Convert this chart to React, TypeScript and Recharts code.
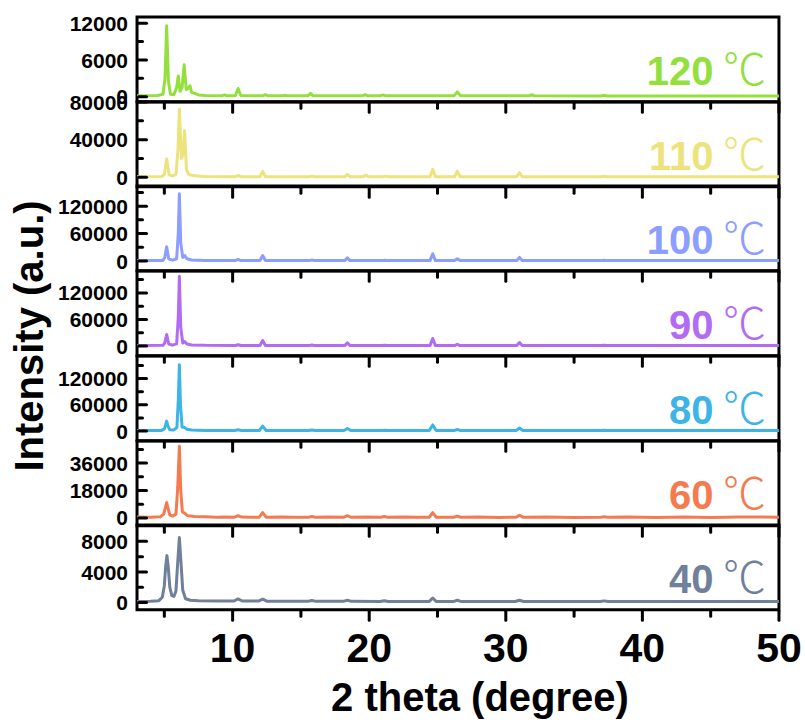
import { LineChart, Line, XAxis, YAxis, ReferenceArea } from 'recharts';

const TEMPS = ['120', '110', '100', '90', '80', '60', '40'];
const COLORS = ['#93E03C', '#ECE37C', '#8C9EFF', '#B26CF4', '#3DB4E6', '#F37B4F', '#6F7F9C'];

const X_TICKS = [5, 10, 15, 20, 25, 30, 35, 40, 45, 50];
const X_LABELS = [10, 20, 30, 40, 50];

const Y_MIN = [-800, -10000, -21000, -21800, -22100, -5100, -930];
const Y_MAX = [13000, 80000, 164000, 169400, 171800, 50500, 10130];
const Y_TICKS = [
    [0, 3000, 6000, 9000, 12000],
    [0, 20000, 40000, 60000, 80000],
    [0, 30000, 60000, 90000, 120000, 150000],
    [0, 30000, 60000, 90000, 120000, 150000],
    [0, 30000, 60000, 90000, 120000, 150000],
    [0, 9000, 18000, 27000, 36000, 45000],
    [0, 2000, 4000, 6000, 8000],
];
const Y_LABELS = [
    [0, 6000, 12000],
    [0, 40000, 80000],
    [0, 60000, 120000],
    [0, 60000, 120000],
    [0, 60000, 120000],
    [0, 18000, 36000],
    [0, 4000, 8000],
];

// [2theta, intensity]
const s120: [number, number][] = [
    [3.0, 150], [4.5, 200], [4.9, 400], [5.05, 3000], [5.17, 11560], [5.3, 2500], [5.45, 400],
    [5.7, 350], [5.9, 1500], [6.02, 3400], [6.15, 900], [6.3, 1500], [6.45, 5200], [6.6, 1200],
    [6.75, 1400], [6.88, 1800], [7.0, 700], [7.2, 600], [7.5, 300], [8.0, 200], [9.2, 150],
    [9.4, 300], [9.6, 150], [10.2, 200], [10.4, 1350], [10.6, 200], [12.2, 150], [12.4, 350],
    [12.6, 150], [13.6, 150], [13.8, 250], [14.0, 150], [15.5, 150], [15.7, 550], [15.9, 150],
    [19.5, 150], [19.7, 350], [19.9, 150], [20.8, 150], [21.0, 300], [21.2, 150], [26.2, 150],
    [26.45, 800], [26.7, 150], [31.7, 150], [31.9, 350], [32.1, 150], [37.0, 130], [37.2, 250],
    [37.4, 130], [50.0, 130],
];
const s110: [number, number][] = [
    [3.0, 500], [4.8, 700], [5.0, 3000], [5.17, 19700], [5.35, 2500], [5.6, 1500], [5.85, 3000],
    [6.0, 30000], [6.1, 72300], [6.25, 20000], [6.38, 25000], [6.48, 49500], [6.62, 8000],
    [6.8, 3000], [7.2, 1500], [8.0, 800], [10.2, 600], [10.4, 2000], [10.6, 600], [12.0, 600],
    [12.2, 6300], [12.4, 600], [15.6, 500], [15.8, 1200], [16.0, 500], [18.2, 500], [18.4, 3000],
    [18.6, 500], [19.55, 500], [19.75, 2500], [19.95, 500], [21.0, 500], [21.2, 1200], [21.4, 500],
    [24.45, 500], [24.65, 8400], [24.85, 500], [26.25, 500], [26.45, 6600], [26.65, 500],
    [30.8, 500], [31.0, 5000], [31.2, 500], [37.0, 500], [37.2, 1000], [37.4, 500], [50.0, 500],
];
const s100: [number, number][] = [
    [3.0, 1000], [4.9, 1500], [5.03, 8000], [5.17, 31200], [5.32, 5000], [5.6, 2000], [5.9, 5000],
    [6.02, 60000], [6.1, 146900], [6.2, 40000], [6.35, 8000], [6.5, 12000], [6.65, 5000],
    [7.0, 2500], [8.0, 1500], [10.2, 1200], [10.4, 3500], [10.6, 1200], [12.0, 1200], [12.2, 12000],
    [12.4, 1200], [15.6, 1000], [15.8, 2500], [16.0, 1000], [18.2, 1000], [18.4, 7000], [18.6, 1000],
    [20.95, 1000], [21.15, 2000], [21.35, 1000], [24.45, 1000], [24.65, 16000], [24.85, 1000],
    [26.25, 1000], [26.45, 5000], [26.65, 1000], [30.8, 1000], [31.0, 8000], [31.2, 1000],
    [37.0, 1000], [37.2, 2000], [37.4, 1000], [50.0, 1000],
];
const s90: [number, number][] = [
    [3.0, 1000], [4.9, 1500], [5.03, 7000], [5.17, 26000], [5.32, 4500], [5.6, 2000], [5.9, 5000],
    [6.02, 65000], [6.1, 157300], [6.2, 42000], [6.35, 7000], [6.5, 10000], [6.65, 4500],
    [7.0, 2500], [8.0, 1500], [10.2, 1200], [10.4, 3000], [10.6, 1200], [12.0, 1200], [12.2, 12600],
    [12.4, 1200], [15.6, 1000], [15.8, 2500], [16.0, 1000], [18.2, 1000], [18.4, 7000], [18.6, 1000],
    [20.95, 1000], [21.15, 2000], [21.35, 1000], [24.45, 1000], [24.65, 17000], [24.85, 1000],
    [26.25, 1000], [26.45, 4000], [26.65, 1000], [30.8, 1000], [31.0, 8000], [31.2, 1000],
    [37.0, 1000], [37.2, 2000], [37.4, 1000], [50.0, 1000],
];
const s80: [number, number][] = [
    [3.0, 1500], [4.0, 1200], [4.8, 1500], [5.0, 5000], [5.1, 15000], [5.17, 22800], [5.26, 12000],
    [5.4, 3000], [5.7, 2500], [5.92, 8000], [6.02, 70000], [6.1, 151900], [6.18, 60000], [6.3, 9000],
    [6.48, 8000], [6.65, 4000], [7.0, 2500], [8.0, 1500], [10.15, 1200], [10.4, 3000], [10.65, 1200],
    [11.95, 1200], [12.2, 11400], [12.45, 1200], [15.55, 1100], [15.8, 2500], [16.05, 1100],
    [18.15, 1100], [18.4, 6000], [18.65, 1100], [20.9, 1000], [21.15, 2000], [21.4, 1000],
    [24.4, 1000], [24.65, 14000], [24.9, 1000], [26.2, 1000], [26.45, 3500], [26.7, 1000],
    [30.75, 1000], [31.0, 7000], [31.25, 1000], [36.95, 1000], [37.2, 2000], [37.45, 1000], [50.0, 1000],
];
const s60: [number, number][] = [
    [3.0, 600], [4.0, 500], [4.7, 700], [4.95, 2500], [5.08, 7000], [5.17, 10100], [5.27, 6500],
    [5.4, 2000], [5.6, 1200], [5.85, 2500], [5.98, 20000], [6.1, 47000], [6.2, 18000], [6.32, 4000],
    [6.5, 3000], [6.7, 1500], [7.2, 900], [8.0, 700], [8.8, 500], [9.5, 650], [10.15, 500],
    [10.4, 1500], [10.65, 550], [11.3, 450], [11.95, 500], [12.2, 3500], [12.45, 500], [13.5, 650],
    [14.5, 400], [15.55, 500], [15.8, 900], [16.05, 500], [17.0, 650], [18.15, 500], [18.4, 1500],
    [18.65, 450], [19.8, 600], [20.85, 450], [21.1, 900], [21.35, 450], [22.5, 650], [23.5, 400],
    [24.4, 500], [24.65, 3500], [24.9, 500], [26.2, 450], [26.45, 1200], [26.7, 450], [28.0, 650],
    [29.5, 350], [30.75, 500], [31.0, 1800], [31.25, 500], [33.0, 650], [35.0, 350], [36.95, 450],
    [37.2, 700], [37.45, 450], [39.0, 600], [41.0, 350], [43.0, 600], [45.0, 350], [47.0, 600],
    [50.0, 500],
];
const s40: [number, number][] = [
    [3.0, 150], [4.0, 170], [4.6, 250], [4.85, 700], [5.0, 2200], [5.1, 4800], [5.19, 6130],
    [5.28, 4800], [5.4, 2000], [5.55, 900], [5.7, 800], [5.85, 1500], [5.97, 5000], [6.1, 8500],
    [6.22, 5200], [6.35, 1600], [6.55, 500], [6.9, 300], [7.5, 230], [9.0, 200], [10.1, 200],
    [10.4, 480], [10.7, 200], [11.9, 200], [12.2, 450], [12.5, 180], [15.5, 160], [15.8, 280],
    [16.1, 160], [18.1, 160], [18.4, 300], [18.7, 160], [20.8, 150], [21.1, 250], [21.4, 150],
    [24.4, 150], [24.65, 600], [24.9, 150], [26.2, 150], [26.45, 300], [26.7, 150], [30.7, 140],
    [31.0, 300], [31.3, 140], [36.9, 130], [37.2, 220], [37.5, 130], [50.0, 130],
];
const SERIES = [s120, s110, s100, s90, s80, s60, s40];

const W = 805;
const PLOT_LEFT = 137;
const PLOT_RIGHT = 779;
const PLOT_TOP = 17;
const PANEL_H = 84.7;
const PAD_TOP = 14;
const FONT = '"Liberation Sans", Arial, sans-serif';

function XTick(props: any) {
    const { x, y, payload, showLabel } = props;
    const major = X_LABELS.includes(payload.value);
    const len = major ? 12 : 8;
    const px = Number(x);
    const py = Number(y);
    return (
        <g>
            <rect x={px - 1.5} y={py} width={3} height={len} rx={1.5} fill="#000" />
            {showLabel && major && (
                <text x={px} y={py + 52} textAnchor="middle" fontFamily={FONT} fontWeight="bold" fontSize={41} fill="#000">
                    {payload.value}
                </text>
            )}
        </g>
    );
}

function YTick(props: any) {
    const { x, y, payload, labels } = props;
    const major = labels.includes(payload.value);
    const len = major ? 11 : 7;
    const px = Number(x);
    const py = Number(y);
    return (
        <g>
            <rect x={px} y={py - 1.5} width={len} height={3} rx={1.5} fill="#000" />
            {major && (
                <text x={px - 9} y={py} dy="0.36em" textAnchor="end" fontFamily={FONT} fontWeight="bold" fontSize={21} fill="#000">
                    {payload.value}
                </text>
            )}
        </g>
    );
}

function Panel({ i }: { i: number }) {
    const last = i === SERIES.length - 1;
    const axisH = last ? 80 : 16;
    const data = SERIES[i].map(([x, y]) => ({ x, y }));
    return (
        <div style={{ position: 'absolute', left: 0, top: PLOT_TOP + i * PANEL_H - PAD_TOP }}>
            <LineChart
                width={W}
                height={PAD_TOP + PANEL_H + axisH}
                data={data}
                margin={{ top: PAD_TOP, right: W - PLOT_RIGHT, bottom: 0, left: 0 }}
            >
                <ReferenceArea
                    x1={3}
                    x2={50}
                    y1={Y_MIN[i]}
                    y2={Y_MAX[i]}
                    fill="none"
                    fillOpacity={0}
                    stroke="#000"
                    strokeWidth={3}
                    ifOverflow="visible"
                />
                <XAxis
                    type="number"
                    dataKey="x"
                    domain={[3, 50]}
                    ticks={X_TICKS}
                    interval={0}
                    axisLine={false}
                    tickLine={false}
                    tickSize={0}
                    tickMargin={0}
                    height={axisH}
                    allowDataOverflow
                    tick={(p: any) => <XTick {...p} showLabel={last} />}
                />
                <YAxis
                    type="number"
                    domain={[Y_MIN[i], Y_MAX[i]]}
                    ticks={Y_TICKS[i]}
                    interval={0}
                    width={PLOT_LEFT}
                    axisLine={false}
                    tickLine={false}
                    tickSize={0}
                    tickMargin={0}
                    allowDataOverflow
                    tick={(p: any) => <YTick {...p} labels={Y_LABELS[i]} />}
                />
                <Line
                    type="linear"
                    dataKey="y"
                    stroke={COLORS[i]}
                    strokeWidth={3}
                    strokeLinejoin="round"
                    dot={false}
                    isAnimationActive={false}
                />
            </LineChart>
        </div>
    );
}

export default function App() {
    return (
        <div style={{ position: 'absolute', left: 0, top: 0, width: W, height: 722, background: '#fff' }}>
            {SERIES.map((_, i) => (
                <Panel key={TEMPS[i]} i={i} />
            ))}
            <svg width={W} height={722} style={{ position: 'absolute', left: 0, top: 0, pointerEvents: 'none' }}>
                <text
                    transform="translate(43,336) rotate(-90)"
                    textAnchor="middle"
                    fontFamily={FONT}
                    fontWeight="bold"
                    fontSize={40}
                    fill="#000"
                >
                    Intensity (a.u.)
                </text>
                <text x={480} y={711} textAnchor="middle" fontFamily={FONT} fontWeight="bold" fontSize={40} fill="#000">
                    2 theta (degree)
                </text>
                {TEMPS.map((t, i) => (
                    <text key={t} x={766} y={PLOT_TOP + i * PANEL_H + 68} textAnchor="end" fill={COLORS[i]} fontSize={40}>
                        <tspan fontFamily={FONT} fontWeight="bold">{t}</tspan>
                        <tspan fontFamily='"Noto Sans CJK SC", sans-serif' fontWeight={300} fontSize={43}> ℃</tspan>
                    </text>
                ))}
            </svg>
        </div>
    );
}
